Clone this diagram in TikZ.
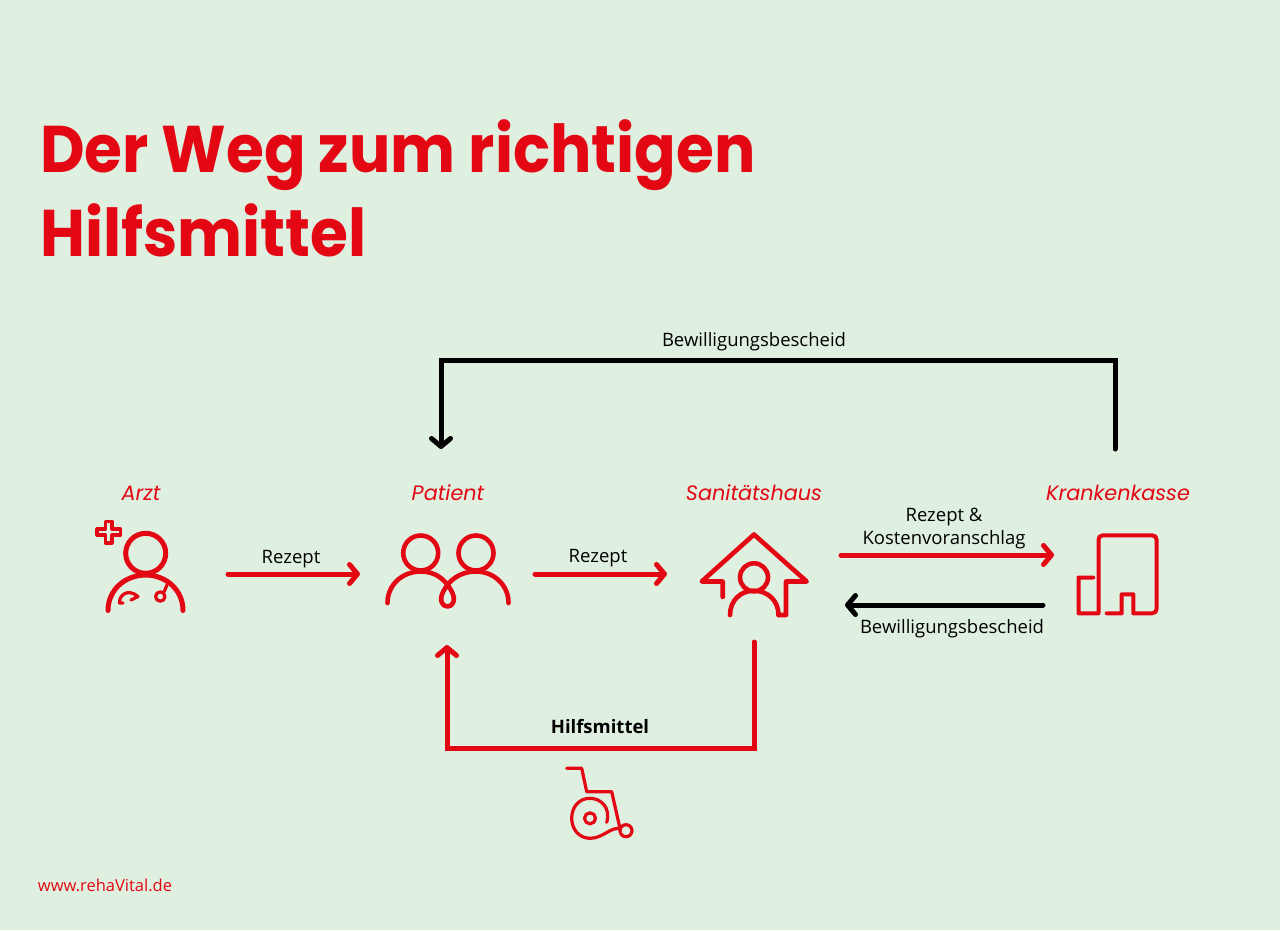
\documentclass[tikz,border=0pt]{standalone}
\usepackage{fontspec}
\setmainfont{Open Sans}
\newfontfamily\titlefont[FakeStretch=0.93]{Poppins}
\newfontfamily\stationfont{Poppins}
\usetikzlibrary{arrows.meta}
\definecolor{rvred}{HTML}{E30613}
\definecolor{rvback}{HTML}{E0F0E0}
\begin{document}
\begin{tikzpicture}[x=1pt, y=-1pt]
  \fill [rvback] (0, 0) rectangle (1280, 930);  % Hintergrund

  \tikzstyle{headline}=[anchor=base west, inner sep=0pt, text=rvred, font=\titlefont\bfseries\fontsize{66}{66}\selectfont]
  \tikzstyle{station}=[text=rvred, inner sep=0pt, font=\stationfont\itshape\fontsize{20.8}{24}\selectfont]
  \tikzstyle{label}=[inner sep=0pt, align=center, font=\fontsize{18.5}{22.5}\selectfont]
  \tikzstyle{icon}=[draw=rvred, line width=4.6pt, line cap=round, line join=round]
  \tikzstyle{thinicon}=[draw=rvred, line width=3.2pt, line cap=round, line join=round]
  \tikzstyle{redline}=[draw=rvred, line width=5pt, line cap=round, line join=miter, -{Straight Barb[length=8pt, width=19pt, round]}]
  \tikzstyle{blackline}=[draw=black, line width=5pt, line cap=round, line join=miter, -{Straight Barb[length=8pt, width=19pt, round]}]

  % Ueberschrift
  \node[headline] (title1) at (40, 172) {Der Weg zum richtigen};
  \node[headline] (title2) at (40, 256) {Hilfsmittel};

  % Stationen
  \node[station] (arzt)    at (141, 493)  {Arzt};
  \node[station] (patient) at (448, 493)  {Patient};
  \node[station] (haus)    at (754, 493)  {Sanitätshaus};
  \node[station] (kasse)   at (1118, 493) {Krankenkasse};

  % Arzt
  \draw[icon, line width=5pt] (145.7, 553.3) circle (20);
  \draw[icon, line width=5pt] (108, 610.5) .. controls (108, 590) and (125, 575) .. (145.7, 575) .. controls (166, 575) and (183, 590) .. (183, 610.5);
  \draw[thinicon] (105.5, 521.5) -- (112, 521.5) -- (112, 529) -- (120.5, 529) -- (120.5, 535) -- (112, 535) -- (112, 543) -- (105.5, 543) -- (105.5, 535) -- (97, 535) -- (97, 529) -- (105.5, 529) -- cycle;
  \draw[thinicon] (123, 603) -- (119.5, 603) .. controls (119, 595) and (128, 588) .. (138, 596.5) -- (131, 600);
  \draw[thinicon] (160.3, 596.5) circle (4.7);
  \draw[thinicon] (164, 592) -- (167, 585);

  % Patient
  \draw[icon] (420.7, 553) circle (17.5);
  \draw[icon] (476, 553) circle (17.5);
  \draw[icon] (387.5, 603) .. controls (387.5, 585) and (402, 571.5) .. (420.7, 571.5) .. controls (436, 571.5) and (446, 580) .. (452, 592) .. controls (456, 600) and (453, 606.5) .. (447.5, 606.5) .. controls (442, 606.5) and (439, 600) .. (443, 592) .. controls (449, 580) and (460, 571.5) .. (476, 571.5) .. controls (494, 571.5) and (508.5, 585) .. (508.5, 603);

  % Sanitaetshaus
  \draw[icon] (722.7, 597) -- (722.7, 581.5) -- (701.7, 581.5) -- (754, 534.5) -- (806.7, 581.5) -- (786, 581.5) -- (786, 615) -- (778.5, 615);
  \draw[icon] (754, 577.3) circle (14);
  \draw[icon] (730, 615) .. controls (730, 600) and (741, 590.7) .. (754, 590.7) .. controls (767, 590.7) and (778.5, 600) .. (778.5, 615);

  % Krankenkasse
  \draw[icon, line width=4pt] (1093.3, 577.5) -- (1078.5, 577.5) -- (1078.5, 613.3) -- (1098.5, 613.3) -- (1098.5, 540) .. controls (1098.5, 537) and (1100, 535.3) .. (1103, 535.3) -- (1152, 535.3) .. controls (1155, 535.3) and (1156.7, 537) .. (1156.7, 540) -- (1156.7, 608.5) .. controls (1156.7, 611.5) and (1155, 613.3) .. (1152, 613.3) -- (1133.3, 613.3) -- (1133.3, 594.3) -- (1121.7, 594.3) -- (1121.7, 613.3) -- (1106.7, 613.3);

  % Rollstuhl
  \draw[thinicon] (566.7, 768.3) -- (581.7, 768.3) -- (586.7, 791.7) -- (611.7, 791.7) -- (620, 828.5);
  \draw[thinicon] (626, 830.7) circle (6);
  \draw[thinicon] (590, 818.3) circle (5.5);
  \draw[thinicon] (606.7, 822.3) .. controls (611, 808) and (601, 798.3) .. (590, 798.3) .. controls (579, 798.3) and (571.7, 807) .. (571.7, 818.3) .. controls (571.7, 829) and (579, 838.3) .. (590, 838.3) .. controls (603, 838.3) and (610, 827) .. (620, 828.5);

  % Pfeile
  \coordinate (rezept1a) at (228, 574);
  \coordinate (rezept1b) at (360, 574);
  \coordinate (rezept2a) at (535, 574);
  \coordinate (rezept2b) at (667, 574);
  \coordinate (antraga)  at (841, 555);
  \coordinate (antragb)  at (1054, 555);
  \coordinate (antwa)    at (1043, 605);
  \coordinate (antwb)    at (845, 605);
  \coordinate (obena)    at (1115, 449);
  \coordinate (obenb)    at (441, 449);
  \coordinate (untena)   at (754, 642);
  \coordinate (untenb)   at (447, 645);

  \draw[redline] (rezept1a) -- (rezept1b);
  \draw[redline] (rezept2a) -- (rezept2b);
  \draw[redline] (antraga) -- (antragb);
  \draw[blackline] (antwa) -- (antwb);
  \draw[blackline] (obena) -- (1115, 360) -- (441, 360) -- (obenb);
  \draw[redline] (untena) -- (754, 748) -- (447, 748) -- (untenb);

  % Beschriftung
  \node[label] (rezept1) at (291, 559.5)   {Rezept};
  \node[label] (rezept2) at (598, 558.5)   {Rezept};
  \node[label] (antrag)  at (944, 528.5)   {Rezept \&\\Kostenvoranschlag};
  \node[label] (antw)    at (952, 628.5)   {Bewilligungsbescheid};
  \node[label] (oben)    at (754, 341.5)  {Bewilligungsbescheid};
  \node[label, font=\bfseries\fontsize{18.5}{22}\selectfont] (mittel) at (600, 727) {Hilfsmittel};
  \node[inner sep=0pt, text=rvred, font=\fontsize{16.5}{18}\selectfont] (web) at (105, 885) {www.rehaVital.de};
\end{tikzpicture}
\end{document}
